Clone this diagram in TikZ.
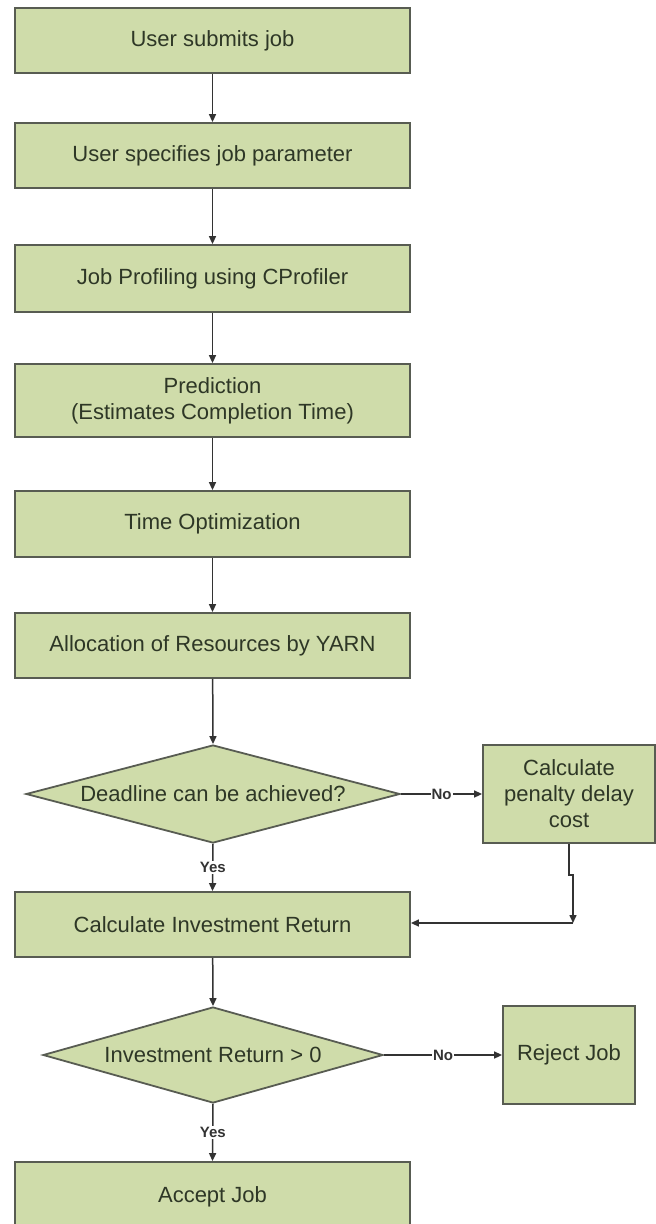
\documentclass[tikz,border=0pt]{standalone}
\usepackage{fontspec}
\setmainfont{Liberation Sans}
\usetikzlibrary{arrows.meta,shapes.geometric}
\definecolor{boxfill}{HTML}{CFDCAA}
\definecolor{boxline}{HTML}{585C52}
\definecolor{txt}{HTML}{2E3726}
\definecolor{conn}{HTML}{333333}
\begin{document}
\begin{tikzpicture}[x=1pt,y=-1pt,
  box/.style={draw=boxline,fill=boxfill,line width=1.8pt,text=txt,inner sep=0pt,align=center,
    font=\fontsize{22}{26}\selectfont},
  dia/.style={box,shape=diamond,shape aspect=4.5},
  arr/.style={draw=conn,line width=1.5pt,-{Triangle[length=8pt,width=7pt]}},
  lab/.style={fill=white,inner sep=1pt,text=conn,font=\fontsize{15}{17}\bfseries\selectfont}]
\useasboundingbox (0,0) rectangle (656,1224);
\node[box,minimum width=395pt,minimum height=65pt] (b1) at (212.5,40.5) {User submits job};
\node[box,minimum width=395pt,minimum height=65pt] (b2) at (212.5,155.5) {User specifies job parameter};
\node[box,minimum width=395pt,minimum height=67pt] (b3) at (212.5,278.5) {Job Profiling using CProfiler};
\node[box,minimum width=395pt,minimum height=73pt] (b4) at (212.5,400.5) {Prediction\\(Estimates Completion Time)};
\node[box,minimum width=395pt,minimum height=66pt] (b5) at (212.5,524) {Time Optimization};
\node[box,minimum width=395pt,minimum height=65pt] (b6) at (212.5,645.5) {Allocation of Resources by YARN};
\node[dia,minimum width=374pt,minimum height=98pt] (d1) at (213,794) {Deadline can be achieved?};
\node[box,minimum width=172pt,minimum height=98pt] (pen) at (569,794) {Calculate\\penalty delay\\cost};
\node[box,minimum width=395pt,minimum height=65pt] (b7) at (212.5,924.5) {Calculate Investment Return};
\node[dia,minimum width=340pt,minimum height=96pt] (d2) at (213,1055) {Investment Return {>} 0};
\node[box,minimum width=132pt,minimum height=98pt] (rej) at (569,1055) {Reject Job};
\node[box,minimum width=395pt,minimum height=70pt] (b8) at (212.5,1197) {Accept Job};
\draw[arr] (b1) -- (b2);
\draw[arr] (b2) -- (b3);
\draw[arr] (b3) -- (b4);
\draw[arr] (b4) -- (b5);
\draw[arr] (b5) -- (b6);
\draw[arr] (b6) -- (d1.north);
\draw[arr] (d1.east) -- node[lab] (no1) {No} (pen.west);
\draw[arr] (d1.south) -- node[lab] (yes1) {Yes} (b7.north);
\coordinate (j1) at (569,875);
\coordinate (j2) at (573,875);
\coordinate (cr) at (573,923);
\draw[arr] (pen.south) -- (j1) -- (j2) -- (cr);
\draw[arr] (cr) -- (b7.east |- cr);
\draw[arr] (b7) -- (d2.north);
\draw[arr] (d2.east) -- node[lab] (no2) {No} (rej.west);
\draw[arr] (d2.south) -- node[lab] (yes2) {Yes} (b8.north);
\end{tikzpicture}
\end{document}
